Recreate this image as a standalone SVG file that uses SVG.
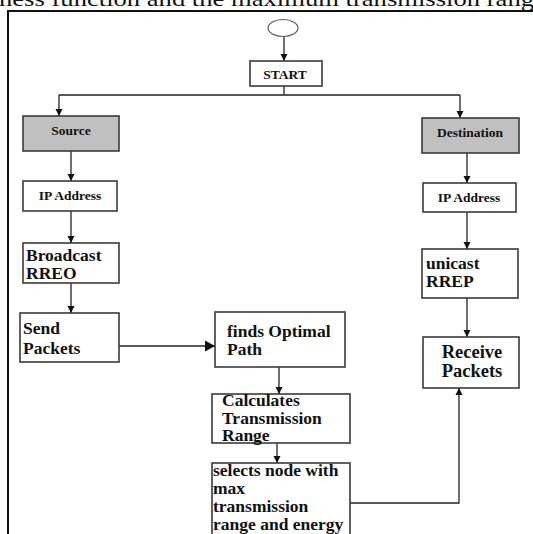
<svg xmlns="http://www.w3.org/2000/svg" width="533" height="534" viewBox="0 0 533 534">
<style>
.box{fill:#fff;stroke:#3a3a3a;stroke-width:1.6}
.gray{fill:#c0c0c0;stroke:#3a3a3a;stroke-width:1.6}
.t{font-family:"Liberation Serif","Times New Roman",serif;font-weight:bold;fill:#111}
.s{font-size:13.5px}
.l{font-size:17.5px}
.c{text-anchor:middle}
.ln{fill:none;stroke:#222;stroke-width:1.3}
</style>
<defs>
<marker id="a" markerWidth="8" markerHeight="8" refX="7" refY="4" orient="auto" markerUnits="userSpaceOnUse">
<path d="M0,0.5 L7,4 L0,7.5 Z" fill="#111"/>
</marker>
<marker id="b" markerWidth="12" markerHeight="12" refX="10" refY="6" orient="auto" markerUnits="userSpaceOnUse">
<path d="M0,0.5 L10,6 L0,11.5 Z" fill="#111"/>
</marker>
</defs>
<text x="-1" y="6" font-family="Liberation Serif, serif" font-size="21" textLength="535" lengthAdjust="spacingAndGlyphs" fill="#111">ness function and the maximum transmission rang</text>
<g id="frame">
<path d="M8,11 V534 M7,11 H533" stroke="#111" stroke-width="2" fill="none"/>
</g>
<g id="connectors">
<path class="ln" d="M284,37 V61" marker-end="url(#a)"/>
<path class="ln" d="M284,86 V95 M59,95 H460"/>
<path class="ln" d="M59,95 V116" marker-end="url(#a)"/>
<path class="ln" d="M460,95 V118" marker-end="url(#a)"/>
<path class="ln" d="M71,151 V181" marker-end="url(#a)"/>
<path class="ln" d="M71,211 V243" marker-end="url(#a)"/>
<path class="ln" d="M71,283 V313" marker-end="url(#a)"/>
<path class="ln" d="M119,346 H215" marker-end="url(#b)"/>
<path class="ln" d="M279,367 V394" marker-end="url(#a)"/>
<path class="ln" d="M277,443 V463" marker-end="url(#a)"/>
<path class="ln" d="M467,153 V183" marker-end="url(#a)"/>
<path class="ln" d="M467,212 V249" marker-end="url(#a)"/>
<path class="ln" d="M467,298 V337" marker-end="url(#a)"/>
<path class="ln" d="M350,503 H459 V388" marker-end="url(#a)"/>
</g>
<g id="ellipse"><ellipse cx="283" cy="28" rx="15" ry="8.5" fill="#fff" stroke="#555" stroke-width="1.2"/></g>
<g id="start"><rect class="box" x="250" y="61" width="72" height="25"/><text class="t s c" x="285" y="79">START</text></g>
<g id="source"><rect class="gray" x="23" y="116" width="96" height="35"/><text class="t s c" x="71" y="135">Source</text></g>
<g id="destination"><rect class="gray" x="422" y="118" width="97" height="35"/><text class="t s c" x="470" y="137">Destination</text></g>
<g id="src-ip"><rect class="box" x="23" y="181" width="94" height="30"/><text class="t s c" x="70" y="200">IP Address</text></g>
<g id="dst-ip"><rect class="box" x="423" y="183" width="93" height="29"/><text class="t s c" x="469" y="202">IP Address</text></g>
<g id="broadcast"><rect class="box" x="23" y="243" width="96" height="40"/><text class="t l" x="26" y="261">Broadcast</text><text class="t l" x="26" y="279">RREO</text></g>
<g id="unicast"><rect class="box" x="422" y="249" width="96" height="49"/><text class="t l" x="426" y="269">unicast</text><text class="t l" x="426" y="287">RREP</text></g>
<g id="send"><rect class="box" x="20" y="313" width="99" height="49"/><text class="t l" x="23" y="334">Send</text><text class="t l" x="23" y="354">Packets</text></g>
<g id="finds"><rect class="box" x="215" y="312" width="130" height="55"/><text class="t l" x="227" y="337">finds Optimal</text><text class="t l" x="227" y="355">Path</text></g>
<g id="receive"><rect class="box" x="423" y="337" width="96" height="51"/><text class="t c" font-size="18.5" x="472" y="358">Receive</text><text class="t c" font-size="18.5" x="472" y="377">Packets</text></g>
<g id="calculates"><rect class="box" x="212" y="394" width="138" height="49"/><text class="t l" x="222" y="406">Calculates</text><text class="t l" x="222" y="424">Transmission</text><text class="t l" x="222" y="441">Range</text></g>
<g id="selects"><rect class="box" x="212" y="463" width="138" height="80"/><text class="t l" x="213" y="476">selects node with</text><text class="t l" x="213" y="494">max</text><text class="t l" x="213" y="512">transmission</text><text class="t l" x="213" y="530">range and energy</text></g>
</svg>
